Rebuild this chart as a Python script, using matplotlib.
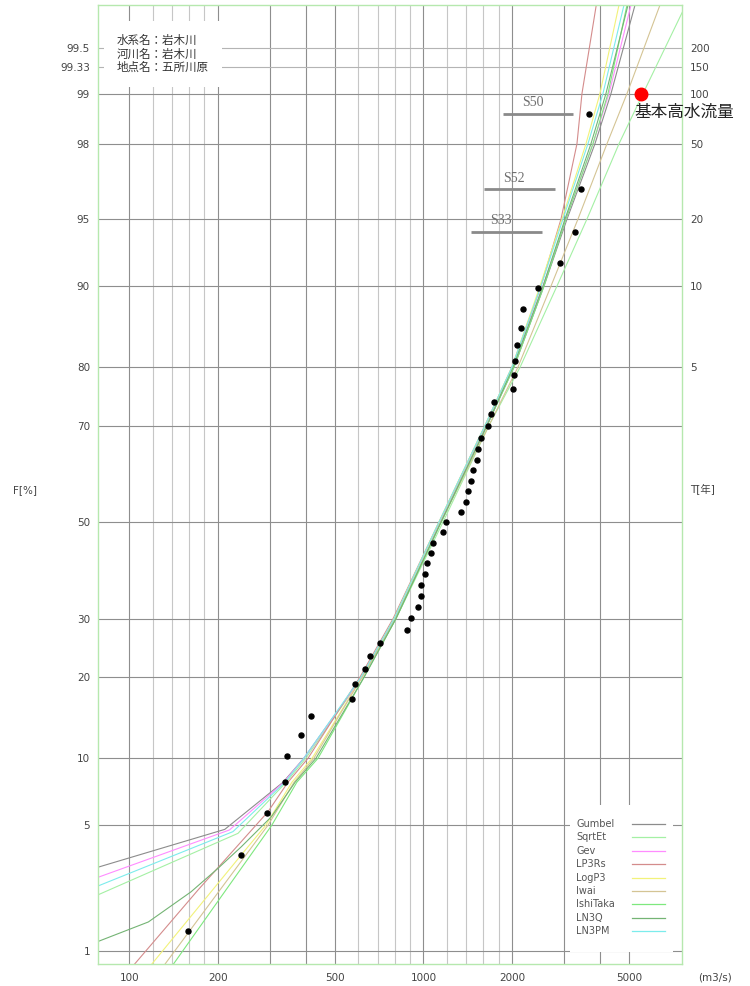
import numpy as np
import matplotlib
matplotlib.use("Agg")
import matplotlib.pyplot as plt
from matplotlib.patches import Rectangle
from matplotlib.ticker import NullLocator
from statistics import NormalDist

plt.rcParams["font.family"] = ["DejaVu Sans", "Noto Sans CJK JP"]

# ---- values ----
station_lines = ["水系名：岩木川", "河川名：岩木川", "地点名：五所川原"]

# observed annual maxima (m3/s) and their plotting positions F[%]
obs_q = [158, 240, 294, 339, 343, 383, 414, 573, 586, 632, 658, 711, 877, 905,
         959, 978, 981, 1014, 1030, 1063, 1080, 1168, 1193, 1342, 1395, 1413,
         1447, 1470, 1521, 1532, 1569, 1661, 1697, 1741, 2021, 2040, 2050, 2085,
         2141, 2185, 2458, 2913, 3276, 3433, 3664]
obs_f = [1.33, 3.54, 5.75, 7.96, 10.18, 12.39, 14.60, 16.81, 19.03, 21.24,
         23.45, 25.66, 27.88, 30.09, 32.30, 34.51, 36.73, 38.94, 41.15, 43.36,
         45.58, 47.79, 50.00, 52.21, 54.42, 56.64, 58.85, 61.06, 63.27, 65.49,
         67.70, 69.91, 72.12, 74.34, 76.55, 78.76, 80.97, 83.19, 85.40, 87.61,
         89.82, 92.04, 94.25, 96.46, 98.67]

design_q = 5500
design_f = 99.0
design_label = "基本高水流量"

flood_names = ["S50", "S52", "S33"]
flood_q_low = [1864, 1606, 1447]
flood_q_high = [3225, 2801, 2523]
flood_f = [98.67, 96.46, 94.25]

# fitted distributions (F[%], Q)
gumbel_f = [3.05, 4.77, 7.9, 10, 20, 30, 50, 70, 80, 90, 95, 98, 99, 99.75]
gumbel_q = [78, 211, 333, 392, 618, 800, 1147, 1644, 2032, 2570, 3077, 3830, 4343, 5242]

sqrtet_f = [2.15, 4.56, 7.9, 10, 20, 30, 50, 70, 80, 90, 95, 98, 99, 99.75]
sqrtet_q = [78, 234, 341, 398, 618, 806, 1165, 1670, 2132, 2845, 3597, 4624, 5580, 7800]

gev_f = [2.69, 4.74, 7.9, 10, 20, 30, 50, 70, 80, 90, 95, 98, 99, 99.75]
gev_q = [78, 219, 335, 392, 618, 800, 1138, 1632, 2016, 2550, 3053, 3771, 4276, 5080]

lp3rs_f = [0.82, 2.29, 5.8, 7.9, 10, 20, 30, 50, 70, 80, 90, 95, 98, 99, 99.75]
lp3rs_q = [104, 171, 296, 346, 405, 608, 788, 1129, 1619, 2000, 2510, 2936, 3327, 3460, 3870]

logp3_f = [0.82, 3.54, 5, 7.9, 10, 20, 30, 50, 70, 80, 90, 95, 98, 99, 99.75]
logp3_q = [119, 240, 291, 357, 418, 618, 794, 1129, 1619, 2000, 2491, 2959, 3570, 3983, 4624]

iwai_f = [0.82, 5, 7.9, 10, 20, 30, 50, 70, 80, 90, 95, 98, 99, 99.75]
iwai_q = [132, 296, 363, 424, 618, 800, 1147, 1670, 2096, 2715, 3353, 4208, 4923, 6374]

ishitaka_f = [0.82, 5, 7.9, 10, 20, 30, 50, 70, 80, 90, 95, 98, 99, 99.75]
ishitaka_q = [141, 305, 371, 438, 628, 806, 1147, 1644, 2032, 2570, 3053, 3771, 4242, 4923]

ln3q_f = [1.14, 1.50, 2.24, 3.01, 3.90, 5.49, 7.9, 10, 20, 30, 50, 70, 80, 90, 95, 98, 99, 99.75]
ln3q_q = [78, 116, 162, 200, 240, 304, 366, 431, 628, 806, 1147, 1644, 2016, 2550, 3029, 3712, 4175, 4962]

ln3pm_f = [2.41, 4.65, 7.9, 10, 20, 30, 50, 70, 80, 90, 95, 98, 99, 99.75]
ln3pm_q = [78, 225, 338, 392, 613, 794, 1129, 1619, 2000, 2510, 2982, 3626, 4078, 4808]

curves = [
    ("Gumbel", gumbel_f, gumbel_q, "#8c8c8c"),
    ("SqrtEt", sqrtet_f, sqrtet_q, "#a4f0a4"),
    ("Gev", gev_f, gev_q, "#ff8cff"),
    ("LP3Rs", lp3rs_f, lp3rs_q, "#d48c8c"),
    ("LogP3", logp3_f, logp3_q, "#f2f27a"),
    ("Iwai", iwai_f, iwai_q, "#d4c494"),
    ("IshiTaka", ishitaka_f, ishitaka_q, "#7ee87e"),
    ("LN3Q", ln3q_f, ln3q_q, "#74b474"),
    ("LN3PM", ln3pm_f, ln3pm_q, "#7cecec"),
]

f_ticks = [1, 5, 10, 20, 30, 50, 70, 80, 90, 95, 98, 99, 99.33, 99.5]
t_ticks_f = [80, 90, 95, 98, 99, 99.33, 99.5]
t_labels = ["5", "10", "20", "50", "100", "150", "200"]
q_ticks = [100, 200, 500, 1000, 2000, 5000]

# ---- normal probability scale ----
_nd = NormalDist()


def prob_to_z(p):
    p = np.asarray(p, dtype=float)
    z = [_nd.inv_cdf(min(max(v / 100.0, 1e-9), 1 - 1e-9)) if np.isfinite(v) else np.nan
         for v in p.ravel()]
    return np.array(z, dtype=float).reshape(p.shape)


def z_to_prob(z):
    z = np.asarray(z, dtype=float)
    p = [_nd.cdf(v) * 100.0 if np.isfinite(v) else np.nan for v in z.ravel()]
    return np.array(p, dtype=float).reshape(z.shape)


W, H = 750, 986
fig = plt.figure(figsize=(W / 100, H / 100), dpi=100)
ax = fig.add_axes([98 / W, 1 - 964.3 / H, 584 / W, 959.3 / H])
ax.set_xscale("log")
ax.set_yscale("function", functions=(prob_to_z, z_to_prob))

# grid
for q in [100, 200, 300, 400, 500, 1000, 2000, 3000, 4000, 5000]:
    ax.axvline(q, color="#8e8e8e", lw=0.8, zorder=0.5)
for q in [120, 140, 160, 180, 600, 700, 800, 900, 1200, 1400, 1600, 1800]:
    ax.axvline(q, color="#c6c6c6", lw=0.8, zorder=0.5)
for f in f_ticks:
    c = "#b4b4b4" if f > 99.1 else "#8e8e8e"
    ax.axhline(f, color=c, lw=0.8, zorder=0.5)

# fitted curves
for name, ff, qq, color in curves:
    ax.plot(qq, ff, color=color, lw=0.8, zorder=2)

# historical floods
ax.hlines(flood_f, flood_q_low, flood_q_high, color="#8a8a8a", lw=2.0, zorder=3)
for name, q0, q1, f in zip(flood_names, flood_q_low, flood_q_high, flood_f):
    ax.annotate(name, xy=(np.sqrt(q0 * q1), f), xytext=(-4, 8),
                textcoords="offset points", ha="center", va="center",
                fontsize=10, family="Liberation Serif", color="#707070", zorder=3)

# observations
ax.plot(obs_q, obs_f, "o", color="black", ms=3.6, zorder=4)

# design flood
ax.plot([design_q], [design_f], "o", color="#ff0000", ms=9, zorder=4, clip_on=False)
ax.annotate(design_label, xy=(design_q, design_f), xytext=(-4.5, -13.3),
            textcoords="offset points", ha="left", va="center", fontsize=12,
            family=["Noto Sans CJK JP"], color="#222222", annotation_clip=False)

# station box
ax.text(0.0325, 0.9698, "\n".join(station_lines), transform=ax.transAxes,
        va="top", ha="left", fontsize=8.3, family=["Noto Sans CJK JP"],
        linespacing=1.05, color="#333333", zorder=5,
        bbox=dict(boxstyle="square,pad=1.1", fc="white", ec="none"))

# legend (text left, line sample right)
ax.add_patch(Rectangle((0.8082, 0.0128), 0.1764, 0.1533, transform=ax.transAxes,
                       fc="white", ec="none", zorder=5))
for i, (name, ff, qq, color) in enumerate(curves):
    yy = (964.3 - (824 + 13.38 * i)) / 959.3
    ax.text(0.8185, yy, name, transform=ax.transAxes, fontsize=7, va="center",
            ha="left", color="#555555", zorder=6)
    ax.plot([0.9144, 0.9709], [yy, yy], transform=ax.transAxes, color=color,
            lw=0.9, zorder=6)

ax.set_xlim(78.2, 7573)
ax.set_ylim(0.82, 99.75)

ax.set_xticks(q_ticks, labels=[str(q) for q in q_ticks])
ax.xaxis.set_minor_locator(NullLocator())
ax.set_yticks(f_ticks, labels=[f"{f:g}" for f in f_ticks])
ax.yaxis.set_minor_locator(NullLocator())
ax.tick_params(axis="x", length=0, pad=6.5, labelsize=7.5, labelcolor="#444444")
ax.tick_params(axis="y", length=0, pad=5.8, labelsize=7.5, labelcolor="#444444")
for s in ax.spines.values():
    s.set_color("#b6e8ae")
    s.set_linewidth(1.0)

ax2 = ax.twinx()
ax2.set_yscale("function", functions=(prob_to_z, z_to_prob))
ax2.set_ylim(ax.get_ylim())
ax2.set_yticks(t_ticks_f, labels=t_labels)
ax2.yaxis.set_minor_locator(NullLocator())
ax2.tick_params(axis="y", length=0, pad=5.8, labelsize=7.5, labelcolor="#444444")
for s in ax2.spines.values():
    s.set_visible(False)

fig.text(25 / W, 1 - 490 / H, "F[%]", ha="center", va="center", fontsize=7.5, color="#444444")
fig.text(703 / W, 1 - 490 / H, "T[年]", ha="center", va="center", fontsize=7.5, color="#444444")
fig.text(715 / W, 1 - 977 / H, "(m3/s)", ha="center", va="center", fontsize=7.5, color="#444444")

fig.savefig("out.png", dpi=100)
